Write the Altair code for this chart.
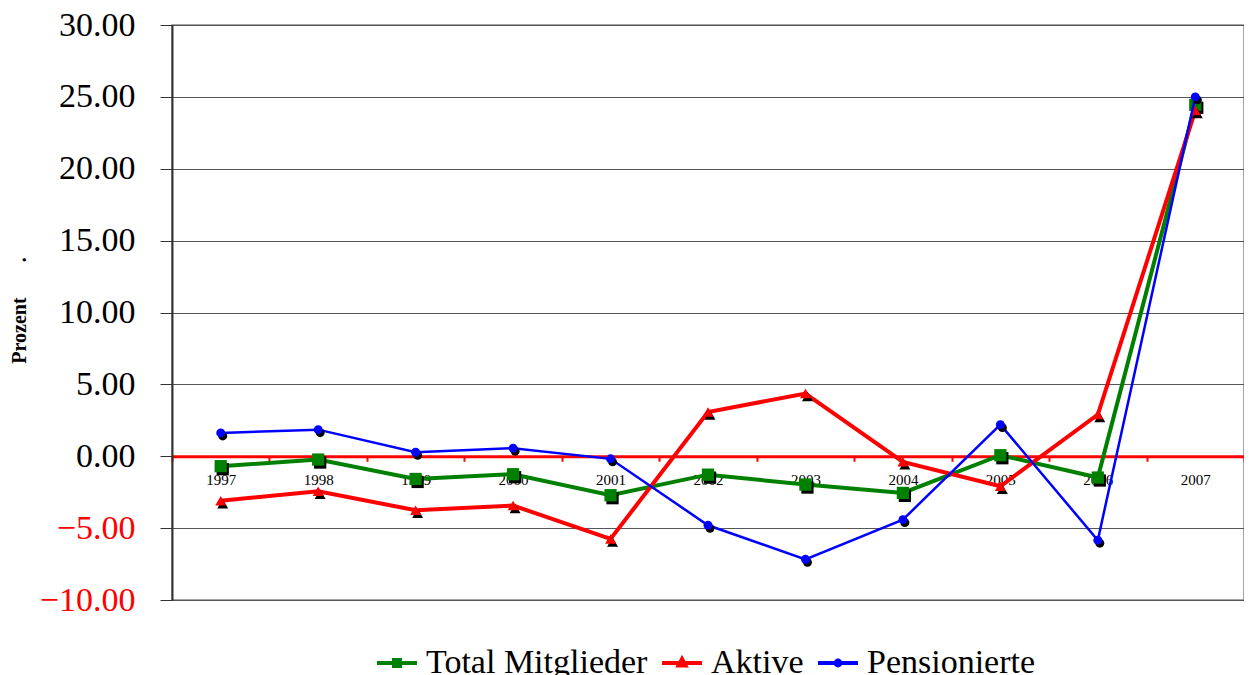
import altair as alt
import pandas as pd

years = ["1997", "1998", "1999", "2000", "2001", "2002", "2003", "2004", "2005", "2006", "2007"]
total = [-0.69, -0.23, -1.58, -1.25, -2.71, -1.28, -1.97, -2.55, 0.07, -1.48, 24.45]
aktive = [-3.10, -2.43, -3.76, -3.43, -5.75, 3.08, 4.36, -0.39, -2.09, 2.90, 24.05]
pens = [1.62, 1.85, 0.28, 0.56, -0.18, -4.80, -7.17, -4.41, 2.20, -5.84, 25.00]

series_names = ["Total Mitglieder", "Aktive", "Pensionierte"]
series_vals = [total, aktive, pens]
colors = ["#008000", "#ff0000", "#0000ff"]
shapes = ["square", "triangle-up", "circle"]
msizes = [150, 120, 80]
lwidths = [4, 4, 2.5]

SERIF = "Liberation Serif"

rows = []
for name, vals in zip(series_names, series_vals):
    for y, v in zip(years, vals):
        rows.append({"Jahr": y, "Wert": v, "Serie": name})
df = pd.DataFrame(rows)

xenc = alt.X("Jahr:N", bandPosition=0.5,
             scale=alt.Scale(type="band", paddingInner=0, paddingOuter=0, domain=years),
             axis=alt.Axis(title=None, offset=-143.75, domainColor="red", domainWidth=3,
                           tickColor="red", tickWidth=2, tickSize=5, tickBand="extent",
                           labelAngle=0, labelFont=SERIF, labelFontSize=15,
                           labelColor="black", labelPadding=11, grid=False))
nb = "\u00a0" * 7
yenc = alt.Y("Wert:Q",
             scale=alt.Scale(domain=[-10, 30], nice=False),
             axis=alt.Axis(values=list(range(-10, 31, 5)), format=".2f",
                           labelFont=SERIF, labelFontSize=34, labelLimit=0,
                           labelColor={"condition": {"test": "datum.value < 0", "value": "red"}, "value": "black"},
                           tickSize=12, tickColor="#333", domainColor="#333", domainWidth=2,
                           labelPadding=25, gridColor="#555", gridWidth=1,
                           title="Prozent" + nb + ".", titleFont=SERIF,
                           titleFontSize=20, titleFontWeight="bold", titleX=-153, titleY=285,
                           titleAlign="center", titleBaseline="middle"))

sq = "M-1,0H1M-0.15,-0.15H0.15V0.15H-0.15Z"
tri = "M-1,0H1M0,-0.2L0.17,0.12H-0.17Z"
cir = "M-1,0H1M0.12,0A0.12,0.12,0,1,1,-0.12,0A0.12,0.12,0,1,1,0.12,0Z"

legend = alt.Legend(orient="none", direction="horizontal", title=None,
                    legendX=203, legendY=616,
                    labelFont=SERIF, labelFontSize=34, labelColor="black", labelLimit=0,
                    symbolSize=1600, symbolStrokeWidth=4, labelOffset=7, columnPadding=6,
                    symbolOpacity=1)
cscale = alt.Scale(domain=series_names, range=colors)
cenc = alt.Color("Serie:N", scale=cscale, legend=legend)

layers = []
for name, shp, ms, lw in zip(series_names, shapes, msizes, lwidths):
    d = df[df["Serie"] == name]
    base = alt.Chart(d).encode(x=xenc, y=yenc)
    layers.append(base.mark_line(strokeWidth=lw).encode(color=cenc))
    layers.append(base.mark_point(shape=shp, size=ms, filled=True, opacity=1, color="black",
                                  xOffset=2, yOffset=3))
    layers.append(base.mark_point(shape=shp, size=ms, filled=True, opacity=1).encode(color=cenc))

leg_layer = alt.Chart(df).transform_filter("false").mark_point(
    filled=False, strokeWidth=4, opacity=1).encode(
    x=xenc, y=yenc,
    color=cenc,
    shape=alt.Shape("Serie:N", scale=alt.Scale(domain=series_names, range=[sq, tri, cir]), legend=legend),
)
layers.append(leg_layer)

chart = alt.layer(*layers).properties(
    width=1072, height=575,
    autosize=alt.AutoSizeParams(type="none"),
    padding={"left": 164, "top": 17, "right": 0, "bottom": 78},
).configure_view(stroke="#888", strokeWidth=1.5)

chart.save("out.html", embed_options={"renderer": "svg", "actions": False})
